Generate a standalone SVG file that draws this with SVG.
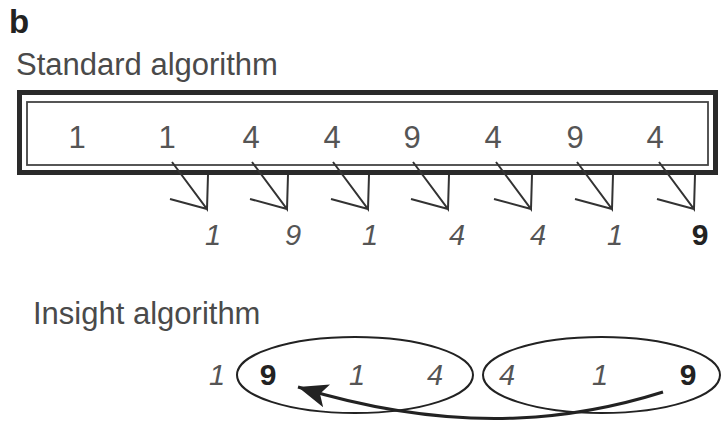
<svg xmlns="http://www.w3.org/2000/svg" width="722" height="423" viewBox="0 0 722 423">
<style>
.title{font-family:"Liberation Sans",Arial,sans-serif;font-size:31px;fill:#4a4a4a}
.lbl{font-family:"Liberation Sans",Arial,sans-serif;font-weight:bold;font-size:33px;fill:#222}
.top{font-family:"Liberation Sans",Arial,sans-serif;font-size:31px;fill:#555;text-anchor:middle}
.it{font-family:"Liberation Sans",Arial,sans-serif;font-style:italic;font-size:29px;fill:#555;text-anchor:middle}
.bd{font-family:"Liberation Sans",Arial,sans-serif;font-weight:bold;font-size:30px;fill:#222;text-anchor:middle}
.sw{fill:none;stroke:#333;stroke-width:2}
.ell{fill:none;stroke:#222;stroke-width:2}
</style>
<defs>
<marker id="ah" markerWidth="32" markerHeight="26" refX="30" refY="13" orient="auto" markerUnits="userSpaceOnUse" viewBox="0 0 32 26">
<path d="M0,1 L30,13 L0,25 L7,13 Z" fill="#222"/>
</marker>
<g id="swap"><path class="sw" d="M-35,162 L0,209 L1,175 M-37,199 L0,209"/></g>
</defs>
<text class="lbl" x="9" y="33">b</text>
<g id="standard">
<text class="title" x="16" y="75">Standard algorithm</text>
<rect x="19.5" y="92.5" width="696" height="80" fill="none" stroke="#2a2a2a" stroke-width="5"/>
<rect x="27" y="102" width="681" height="63" fill="none" stroke="#444" stroke-width="1.8"/>
<g id="top-row">
<text class="top" x="77" y="148">1</text>
<text class="top" x="167" y="148">1</text>
<text class="top" x="251" y="148">4</text>
<text class="top" x="332" y="148">4</text>
<text class="top" x="412" y="148">9</text>
<text class="top" x="493" y="148">4</text>
<text class="top" x="575" y="148">9</text>
<text class="top" x="655" y="148">4</text>
</g>
<g id="connectors-standard">
<use href="#swap" x="207"/>
<use href="#swap" x="287"/>
<use href="#swap" x="368"/>
<use href="#swap" x="448"/>
<use href="#swap" x="531"/>
<use href="#swap" x="612"/>
<use href="#swap" x="694"/>
</g>
<g id="bottom-row">
<text class="it" x="213" y="245">1</text>
<text class="it" x="293" y="245">9</text>
<text class="it" x="370" y="245">1</text>
<text class="it" x="457" y="245">4</text>
<text class="it" x="538" y="245">4</text>
<text class="it" x="615" y="245">1</text>
<text class="bd" x="700" y="245">9</text>
</g>
</g>
<g id="insight">
<text class="title" x="33" y="324">Insight algorithm</text>
<g id="left-group">
<ellipse class="ell" cx="355" cy="375" rx="118" ry="38"/>
</g>
<g id="right-group">
<ellipse class="ell" cx="601.5" cy="375" rx="118.5" ry="38"/>
</g>
<text class="it" x="217" y="385">1</text>
<text class="bd" x="268" y="385">9</text>
<text class="it" x="357" y="385">1</text>
<text class="it" x="435" y="385">4</text>
<text class="it" x="507" y="385">4</text>
<text class="it" x="600" y="385">1</text>
<text class="bd" x="688" y="385">9</text>
<g id="connectors-insight">
<path d="M663,392 C590,415 470,440 298,387" fill="none" stroke="#222" stroke-width="3" marker-end="url(#ah)"/>
</g>
</g>
</svg>
